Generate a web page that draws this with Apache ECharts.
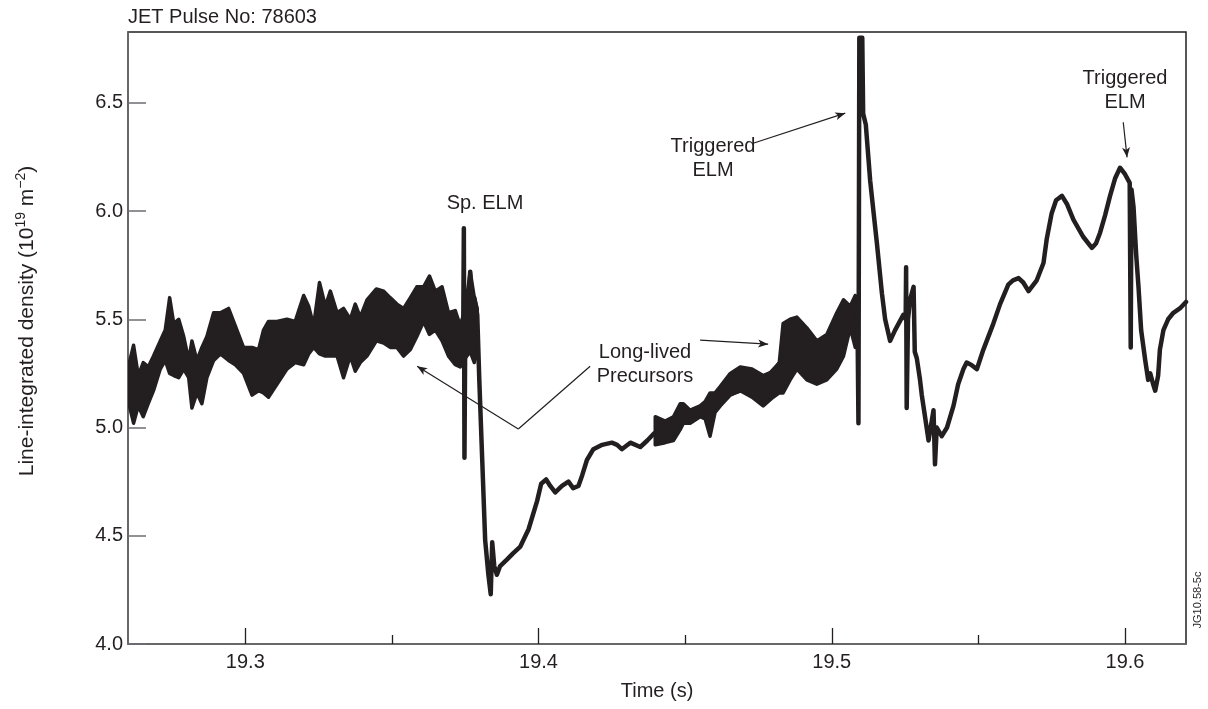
<!DOCTYPE html>
<html>
<head>
<meta charset="utf-8">
<title>JET Pulse No: 78603</title>
<script src="https://cdn.jsdelivr.net/npm/echarts@6/dist/echarts.min.js"></script>
<style>
  html, body { margin: 0; padding: 0; background: #fff; }
  #chart { width: 1208px; height: 709px; }
</style>
</head>
<body>
<div id="chart"></div>
<script>
const xTicks = [19.3, 19.4, 19.5, 19.6];
const xMinorTicks = [19.35, 19.45, 19.55];
const yTicks = [4.0, 4.5, 5.0, 5.5, 6.0, 6.5];

// noisy band before the spontaneous ELM (upper / lower envelope)
const bandATime = [19.2601, 19.2619, 19.2635, 19.2652, 19.2669, 19.2687, 19.2710, 19.2727, 19.2742, 19.2756,
  19.2773, 19.2790, 19.2807, 19.2818, 19.2835, 19.2852, 19.2869, 19.2892, 19.2915, 19.2943,
  19.2966, 19.2994, 19.3023, 19.3045, 19.3062, 19.3079, 19.3108, 19.3142, 19.3170, 19.3199,
  19.3216, 19.3233, 19.3253, 19.3273, 19.3290, 19.3313, 19.3335, 19.3358, 19.3375, 19.3392,
  19.3415, 19.3447, 19.3472, 19.3494, 19.3517, 19.3540, 19.3563, 19.3585, 19.3608, 19.3628,
  19.3648, 19.3671, 19.3693, 19.3716, 19.3733, 19.3750, 19.3767, 19.3781, 19.3791];
const bandATop = [5.28, 5.38, 5.24, 5.30, 5.28, 5.33, 5.40, 5.45, 5.60, 5.48,
  5.50, 5.42, 5.31, 5.40, 5.31, 5.37, 5.42, 5.53, 5.53, 5.55,
  5.47, 5.37, 5.37, 5.36, 5.45, 5.49, 5.49, 5.50, 5.49, 5.61,
  5.56, 5.47, 5.67, 5.56, 5.63, 5.53, 5.55, 5.50, 5.57, 5.51,
  5.59, 5.64, 5.63, 5.60, 5.57, 5.55, 5.60, 5.65, 5.65, 5.70,
  5.63, 5.65, 5.53, 5.54, 5.47, 5.55, 5.72, 5.60, 5.55];
const bandABottom = [5.12, 5.02, 5.10, 5.05, 5.11, 5.17, 5.27, 5.31, 5.25, 5.24,
  5.23, 5.27, 5.23, 5.09, 5.16, 5.11, 5.23, 5.31, 5.34, 5.31,
  5.29, 5.25, 5.15, 5.17, 5.16, 5.14, 5.20, 5.27, 5.30, 5.29,
  5.34, 5.37, 5.34, 5.33, 5.33, 5.33, 5.23, 5.33, 5.26, 5.30,
  5.33, 5.40, 5.39, 5.37, 5.37, 5.33, 5.36, 5.42, 5.49, 5.43,
  5.45, 5.40, 5.33, 5.29, 5.28, 5.32, 5.35, 5.30, 5.35];

// noisy band of the long-lived precursor before the first triggered ELM
const bandBTime = [19.4398, 19.4432, 19.4460, 19.4483, 19.4494, 19.4517, 19.4551, 19.4568, 19.4585, 19.4602,
  19.4620, 19.4654, 19.4688, 19.4728, 19.4766, 19.4800, 19.4821, 19.4834, 19.4858, 19.4881,
  19.4915, 19.4949, 19.4983, 19.5017, 19.5040, 19.5063, 19.5080, 19.5088];
const bandBTop = [5.05, 5.03, 5.05, 5.11, 5.11, 5.08, 5.10, 5.12, 5.16, 5.16,
  5.19, 5.25, 5.28, 5.27, 5.24, 5.26, 5.30, 5.48, 5.50, 5.51,
  5.46, 5.40, 5.43, 5.53, 5.59, 5.56, 5.61, 5.60];
const bandBBottom = [4.92, 4.93, 4.94, 4.99, 5.02, 5.02, 5.05, 5.04, 4.96, 5.07,
  5.10, 5.15, 5.17, 5.14, 5.10, 5.14, 5.16, 5.16, 5.22, 5.27,
  5.22, 5.20, 5.22, 5.27, 5.33, 5.46, 5.37, 5.45];

// main trace (line-integrated density, 1e19 m^-2)
const traceTime = [19.3733, 19.3743, 19.37453, 19.37474, 19.3750, 19.3757, 19.3767, 19.3774, 19.3781, 19.3791,
  19.3798, 19.3808, 19.3818, 19.3829, 19.3837, 19.3842, 19.3849, 19.3858, 19.3869, 19.3892,
  19.3914, 19.3938, 19.3966, 19.3995, 19.4009, 19.4026, 19.4040, 19.4057, 19.4080, 19.4102,
  19.4118, 19.4136, 19.4149, 19.4165, 19.4187, 19.4217, 19.4250, 19.4268, 19.4284, 19.4313,
  19.4347, 19.4371, 19.4392, 19.4483, 19.4620, 19.4756, 19.4858, 19.4961, 19.5046, 19.5083,
  19.5088, 19.5091, 19.5094, 19.5104, 19.5107, 19.5116, 19.5131, 19.5142, 19.5154, 19.5171,
  19.5182, 19.5199, 19.5216, 19.5244, 19.5252, 19.52535, 19.52555, 19.5260, 19.5267, 19.5279,
  19.5283, 19.5290, 19.5301, 19.5307, 19.5318, 19.5330, 19.5347, 19.5352, 19.5358, 19.5375,
  19.5393, 19.5415, 19.5431, 19.5449, 19.5460, 19.5475, 19.5495, 19.5517, 19.5551, 19.5574,
  19.5602, 19.5618, 19.5637, 19.5653, 19.5671, 19.5699, 19.5722, 19.5733, 19.5750, 19.5765,
  19.5785, 19.5803, 19.5824, 19.5858, 19.5887, 19.5901, 19.5915, 19.5932, 19.5949, 19.5966,
  19.5983, 19.6000, 19.6016, 19.60195, 19.6022, 19.6029, 19.6038, 19.6046, 19.6055, 19.6069,
  19.6079, 19.6086, 19.6096, 19.6103, 19.6113, 19.6119, 19.6131, 19.6147, 19.6165, 19.6187,
  19.6208];
const traceValue = [5.38, 5.40, 5.92, 4.86, 5.42, 5.50, 5.72, 5.50, 5.60, 5.52,
  5.22, 4.85, 4.48, 4.32, 4.23, 4.47, 4.36, 4.32, 4.36, 4.39,
  4.42, 4.45, 4.53, 4.66, 4.74, 4.76, 4.73, 4.70, 4.73, 4.75,
  4.72, 4.73, 4.78, 4.85, 4.90, 4.92, 4.93, 4.92, 4.90, 4.93,
  4.91, 4.94, 4.97, 5.05, 5.14, 5.20, 5.35, 5.31, 5.43, 5.50,
  5.45, 5.02, 6.80, 6.80, 6.45, 6.40, 6.14, 6.00, 5.85, 5.62,
  5.50, 5.40, 5.45, 5.52, 5.50, 5.74, 5.09, 5.50, 5.59, 5.65,
  5.35, 5.32, 5.22, 5.15, 5.05, 4.94, 5.08, 4.83, 5.00, 4.96,
  5.00, 5.10, 5.20, 5.27, 5.30, 5.29, 5.27, 5.36, 5.48, 5.57,
  5.66, 5.68, 5.69, 5.67, 5.63, 5.68, 5.76, 5.87, 5.99, 6.05,
  6.07, 6.03, 5.96, 5.88, 5.83, 5.85, 5.90, 5.98, 6.07, 6.15,
  6.20, 6.17, 6.13, 5.37, 6.10, 6.02, 5.80, 5.65, 5.45, 5.31,
  5.22, 5.25, 5.20, 5.17, 5.24, 5.36, 5.45, 5.50, 5.53, 5.55,
  5.58];

// annotation arrows: [from, to] in (time, density)
const arrows = [
  { from: [19.3931, 4.993], to: [19.3586, 5.283], head: true },
  { from: [19.3931, 4.993], to: [19.4176, 5.283], head: false },
  { from: [19.4551, 5.404], to: [19.4783, 5.385], head: true },
  { from: [19.4732, 6.313], to: [19.5046, 6.452], head: true },
  { from: [19.5994, 6.410], to: [19.6007, 6.248], head: true }
];

const ink = '#231f20';
const axisGray = '#6d6e71';
const font = '"Liberation Sans", Arial, Helvetica, sans-serif';

const zip = (a, b) => a.map((v, i) => [v, b[i]]);

const bands = [
  { time: bandATime, top: bandATop, bottom: bandABottom },
  { time: bandBTime, top: bandBTop, bottom: bandBBottom }
];

const chart = echarts.init(document.getElementById('chart'), null, { renderer: 'canvas' });

chart.setOption({
  animation: false,
  backgroundColor: '#ffffff',
  textStyle: { fontFamily: font, color: ink },
  grid: {
    left: 128, right: 22, top: 32, bottom: 65,
    show: true, borderColor: ink, borderWidth: 1.5,
    containLabel: false, outerBoundsMode: 'none'
  },
  xAxis: [
    {
      type: 'value', min: 19.26, max: 19.6208,
      splitLine: { show: false },
      axisLine: { show: true, onZero: false, lineStyle: { color: axisGray, width: 1.5 } },
      axisTick: { show: true, inside: true, length: 16, customValues: xTicks,
        lineStyle: { color: ink, width: 1.3 } },
      axisLabel: { customValues: xTicks, formatter: v => v.toFixed(1), margin: 8,
        fontSize: 20, color: ink, fontFamily: font },
      name: 'Time (s)', nameLocation: 'middle', nameGap: 37,
      nameTextStyle: { fontSize: 20, color: ink, fontFamily: font }
    },
    {
      type: 'value', min: 19.26, max: 19.6208, position: 'bottom',
      splitLine: { show: false },
      axisLine: { show: false },
      axisTick: { show: true, inside: true, length: 9, customValues: xMinorTicks,
        lineStyle: { color: ink, width: 1.3 } },
      axisLabel: { show: false }
    }
  ],
  yAxis: {
    type: 'value', min: 4, max: 6.827,
    splitLine: { show: false },
    axisLine: { show: true, onZero: false, lineStyle: { color: axisGray, width: 1.5 } },
    axisTick: { show: true, inside: true, length: 18, customValues: yTicks,
      lineStyle: { color: axisGray, width: 1.5 } },
    axisLabel: { customValues: yTicks, formatter: v => v.toFixed(1), margin: 5,
      fontSize: 20, color: ink, fontFamily: font }
  },
  series: [
    {
      // fluctuation envelopes drawn as filled polygons
      name: 'fluctuation band', type: 'custom', silent: true, z: 3, clip: true,
      data: bands.map((b, i) => [b.time[0], b.top[0], i]),
      encode: { x: 0, y: 1 },
      renderItem: (params, api) => {
        const b = bands[api.value(2)];
        const pts = [];
        b.time.forEach((t, j) => pts.push(api.coord([t, b.top[j]])));
        for (let j = b.time.length - 1; j >= 0; j--) pts.push(api.coord([b.time[j], b.bottom[j]]));
        return {
          type: 'polygon',
          shape: { points: pts },
          style: { fill: ink, stroke: ink, lineWidth: 3.5, lineJoin: 'round' }
        };
      }
    },
    {
      name: 'density', type: 'line', data: zip(traceTime, traceValue), symbol: 'none',
      lineStyle: { color: ink, width: 4.5, join: 'round', cap: 'round' }, z: 4, silent: true,
      markLine: {
        silent: true, animation: false, symbolSize: [6, 10], z: 5,
        label: { show: false },
        lineStyle: { color: ink, width: 1.2, type: 'solid' },
        emphasis: { disabled: true },
        data: arrows.map(a => [
          { coord: a.from, symbol: 'none' },
          { coord: a.to, symbol: a.head ? 'arrow' : 'none' }
        ])
      }
    }
  ],
  graphic: [
    { type: 'text', left: 128, top: 7,
      style: { text: 'JET Pulse No: 78603', font: '20px ' + font, fill: ink } },
    { type: 'text', x: 27, y: 321, rotation: Math.PI / 2,
      style: {
        text: '{n|Line-integrated density (10}{s|19}{n| m}{s|\u22122}{n|)}',
        align: 'center', verticalAlign: 'middle', textAlign: 'center', textVerticalAlign: 'middle',
        fill: ink,
        rich: {
          n: { fontSize: 21, fontFamily: font, lineHeight: 25, fill: ink, color: ink },
          s: { fontSize: 14, fontFamily: font, lineHeight: 14, verticalAlign: 'top', fill: ink, color: ink }
        }
      } },
    { type: 'text', x: 485, y: 203,
      style: { text: 'Sp. ELM', font: '20px ' + font, fill: ink,
        align: 'center', verticalAlign: 'middle', textAlign: 'center', textVerticalAlign: 'middle' } },
    { type: 'text', x: 645, y: 364,
      style: { text: 'Long-lived\nPrecursors', font: '20px ' + font, fill: ink, lineHeight: 24,
        align: 'center', verticalAlign: 'middle', textAlign: 'center', textVerticalAlign: 'middle' } },
    { type: 'text', x: 713, y: 158,
      style: { text: 'Triggered\nELM', font: '20px ' + font, fill: ink, lineHeight: 24,
        align: 'center', verticalAlign: 'middle', textAlign: 'center', textVerticalAlign: 'middle' } },
    { type: 'text', x: 1125, y: 90,
      style: { text: 'Triggered\nELM', font: '20px ' + font, fill: ink, lineHeight: 24,
        align: 'center', verticalAlign: 'middle', textAlign: 'center', textVerticalAlign: 'middle' } },
    { type: 'text', x: 1198, y: 600, rotation: Math.PI / 2,
      style: { text: 'JG10.58-5c', font: '11px ' + font, fill: ink,
        align: 'center', verticalAlign: 'middle', textAlign: 'center', textVerticalAlign: 'middle' } }
  ]
});
</script>
</body>
</html>
